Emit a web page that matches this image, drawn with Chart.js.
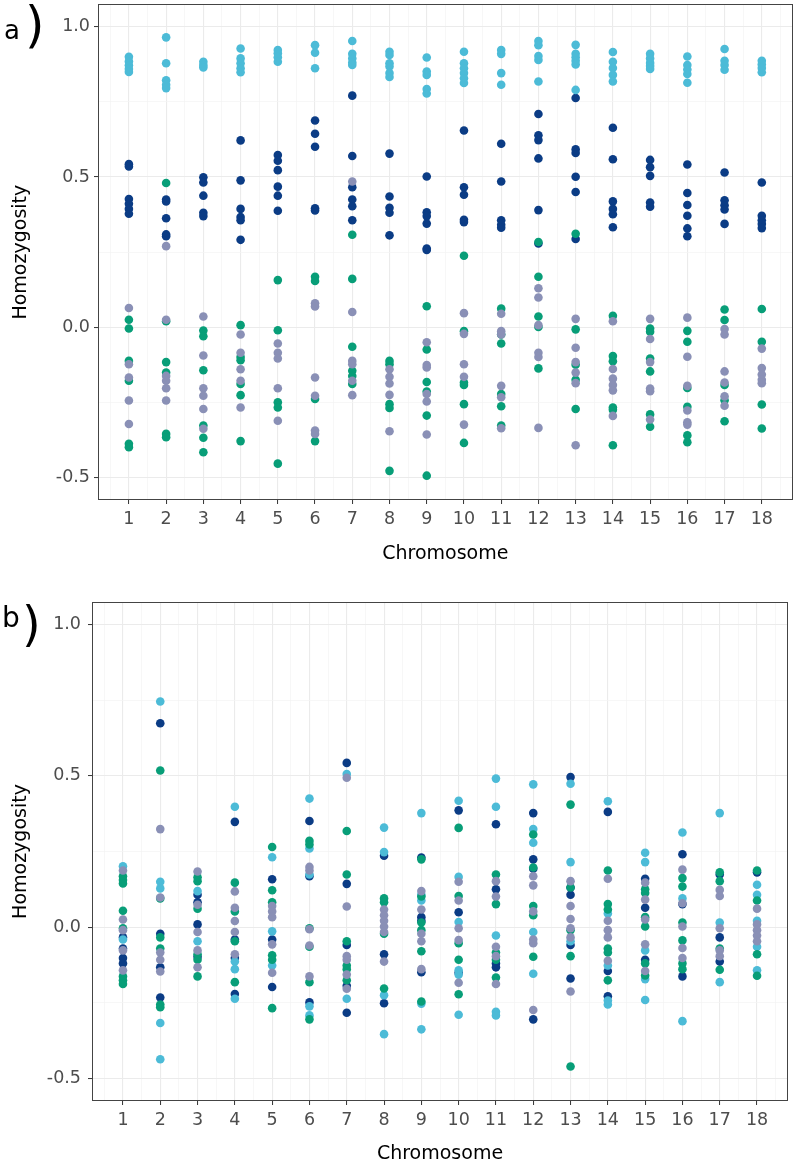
<!DOCTYPE html>
<html><head><meta charset="utf-8">
<script src="https://cdn.jsdelivr.net/npm/chart.js@4.4.0/dist/chart.umd.min.js"></script>
<style>
html,body{margin:0;padding:0;background:#fff;width:797px;height:1163px;overflow:hidden;position:relative;}
canvas{position:absolute;left:0;}
.lbl{position:absolute;font-family:"DejaVu Sans";color:#000;line-height:1;white-space:nowrap;}
</style></head><body>
<canvas id="ca" width="797" height="572" style="top:0"></canvas>
<canvas id="cb" width="797" height="583" style="top:580px"></canvas>
<span class="lbl" style="left:4px;top:17px;font-size:26px">a</span>
<span class="lbl" style="left:25px;top:0px;font-size:50px">)</span>
<span class="lbl" style="left:2px;top:604px;font-size:28px">b</span>
<span class="lbl" style="left:22px;top:600px;font-size:48px">)</span>
<script>
const chromosomes = [1,2,3,4,5,6,7,8,9,10,11,12,13,14,15,16,17,18];
const yMajorValues = [-0.5, 0, 0.5, 1.0];
const yTickLabels = ['-0.5', '0.0', '0.5', '1.0'];
const yMinorValues = [-0.25, 0.25, 0.75];

// Panel a
const aLightBlue = [
 [0.90,0.885,0.872,0.86,0.85],[0.965,0.879,0.822,0.807,0.796],[0.884,0.873,0.865],
 [0.928,0.895,0.879,0.862,0.849],[0.923,0.912,0.899,0.884],[0.939,0.914,0.862],
 [0.953,0.910,0.895,0.881,0.873],[0.917,0.906,0.879,0.868,0.846,0.833],[0.898,0.851,0.840,0.793,0.778],
 [0.917,0.879,0.862,0.846,0.829,0.813],[0.923,0.910,0.846,0.807],[0.953,0.939,0.903,0.890,0.818],
 [0.940,0.910,0.899,0.887,0.875,0.790],[0.916,0.884,0.863,0.840,0.818],[0.91,0.895,0.88,0.87,0.86],
 [0.901,0.873,0.858,0.843,0.814],[0.926,0.887,0.873,0.857],[0.887,0.875,0.863,0.849]];
const aNavy = [
 [0.543,0.535,0.427,0.411,0.394,0.378],[0.425,0.419,0.363,0.309,0.303],[0.499,0.482,0.438,0.381,0.370],
 [0.622,0.489,0.394,0.367,0.356,0.291],[0.573,0.554,0.523,0.468,0.438,0.388],[0.688,0.644,0.601,0.396,0.389],
 [0.771,0.570,0.466,0.425,0.403,0.356],[0.578,0.435,0.398,0.381,0.306],[0.502,0.383,0.370,0.345,0.262,0.257],
 [0.655,0.466,0.441,0.358,0.350],[0.611,0.485,0.356,0.341,0.331],[0.710,0.639,0.623,0.562,0.390,0.279],
 [0.763,0.592,0.580,0.501,0.450,0.294],[0.664,0.559,0.419,0.394,0.376,0.333],[0.557,0.533,0.504,0.415,0.401],
 [0.542,0.447,0.407,0.371,0.329,0.303],[0.515,0.423,0.406,0.392,0.344],[0.482,0.371,0.356,0.344,0.330]];
const aGreen = [
 [0.025,-0.004,-0.112,-0.178,-0.388,-0.399],[0.480,0.020,-0.116,-0.151,-0.355,-0.366],[-0.011,-0.030,-0.143,-0.327,-0.368,-0.416],
 [0.007,-0.099,-0.110,-0.189,-0.226,-0.379],[0.157,-0.010,-0.250,-0.267,-0.454],[0.168,0.154,-0.239,-0.379],
 [0.308,0.161,-0.065,-0.145,-0.162,-0.189],[-0.112,-0.123,-0.256,-0.269,-0.478],[0.070,-0.074,-0.182,-0.214,-0.294,-0.494],
 [0.238,-0.013,-0.184,-0.192,-0.256,-0.385],[0.062,-0.024,-0.054,-0.222,-0.263,-0.327],[0.284,0.168,0.036,0.001,-0.137],
 [0.311,-0.007,-0.125,-0.175,-0.272],[0.038,-0.096,-0.113,-0.267,-0.275,-0.393],[-0.004,-0.015,-0.104,-0.147,-0.290,-0.331],
 [-0.012,-0.048,-0.202,-0.265,-0.360,-0.383],[0.059,0.024,-0.192,-0.243,-0.313],[0.061,-0.048,-0.257,-0.337]];
const aGrey = [
 [0.064,-0.123,-0.167,-0.244,-0.322],[0.270,0.025,-0.162,-0.178,-0.203,-0.244],[0.036,-0.094,-0.203,-0.228,-0.272,-0.338],
 [-0.024,-0.085,-0.140,-0.178,-0.267],[-0.054,-0.085,-0.104,-0.203,-0.311],[0.080,0.069,-0.167,-0.228,-0.344,-0.355],
 [0.485,0.051,-0.112,-0.123,-0.178,-0.226],[-0.140,-0.165,-0.187,-0.225,-0.346],[-0.050,-0.126,-0.134,-0.222,-0.247,-0.357],
 [0.047,-0.022,-0.123,-0.165,-0.324],[0.045,-0.013,-0.024,-0.195,-0.233,-0.336],[0.130,0.099,0.007,-0.085,-0.099,-0.335],
 [0.028,-0.068,-0.116,-0.151,-0.186,-0.393],[0.020,-0.139,-0.171,-0.192,-0.210,-0.295],[0.028,-0.039,-0.116,-0.204,-0.213,-0.307],
 [0.032,-0.098,-0.195,-0.277,-0.316,-0.324],[-0.006,-0.024,-0.147,-0.184,-0.230,-0.261],[-0.071,-0.136,-0.157,-0.175,-0.186]];

// Panel b
const bLightBlue = [
 [0.201,-0.041],[0.746,0.150,0.128,-0.317,-0.437],[0.119,-0.047],[0.398,-0.114,-0.139,-0.237],
 [0.231,-0.014,-0.127],[0.425,0.260,0.174,-0.262,-0.292],[0.506,-0.237],[0.329,0.248,-0.225,-0.354],
 [0.377,0.107,0.088,-0.253,-0.338],[0.418,0.166,0.017,-0.143,-0.157,-0.290],[0.491,0.398,-0.028,-0.280,-0.292],
 [0.472,0.324,0.279,-0.016,-0.154],[0.474,0.215,-0.047],[0.416,0.045,-0.127,-0.243,-0.256],
 [0.246,0.215,-0.077,-0.172,-0.241],[0.313,0.095,-0.311],[0.377,0.015,-0.182],[0.140,0.107,0.021,-0.065,-0.143]];
const bNavy = [
 [-0.034,-0.071,-0.102,-0.120],[0.674,-0.022,-0.133,-0.233],[0.107,0.082,0.009,-0.098],[0.348,-0.041,-0.102,-0.221],
 [0.158,-0.041,-0.198],[0.351,0.168,-0.249],[0.543,0.143,-0.059,-0.194,-0.283],[0.236,-0.090,-0.252],
 [0.230,0.033,0.021,-0.149],[0.386,0.049,-0.151],[0.340,0.125,-0.120,-0.133],[0.377,0.224,0.193,-0.305],
 [0.496,0.131,0.107,-0.059,-0.170],[0.381,-0.145,-0.229],[0.160,0.064,-0.108],[0.241,0.076,-0.163],
 [0.174,-0.034,-0.114],[0.181]];
const bGreen = [
 [0.168,0.156,0.144,0.054,-0.004,-0.163,-0.176,-0.188],[0.518,0.095,-0.034,-0.071,-0.256,-0.265],[0.165,0.152,0.061,-0.090,-0.108,-0.163],
 [0.147,0.052,-0.047,-0.182],[0.265,0.122,0.082,-0.093,-0.108,-0.268],[0.285,0.273,-0.004,-0.065,-0.182,-0.305],
 [0.318,0.174,-0.047,-0.127,-0.139,-0.176],[0.095,0.082,-0.022,-0.203],[0.224,0.101,0.015,-0.010,-0.080,-0.246],
 [0.328,0.103,-0.053,-0.108,-0.222],[0.174,0.076,-0.084,-0.108,-0.167],[0.306,0.197,0.070,0.039,-0.098],
 [0.405,0.131,-0.010,-0.096,-0.461],[0.187,0.076,0.058,-0.071,-0.084,-0.176],[0.125,0.113,0.033,0.002,-0.120,-0.160],
 [0.162,0.134,0.015,-0.044,-0.120,-0.139],[0.181,0.152,-0.071,-0.141],[0.187,0.088,-0.090,-0.161]];
const bGrey = [
 [0.187,0.025,-0.010,-0.077,-0.143],[0.324,0.098,-0.084,-0.108,-0.147],[0.184,0.074,-0.016,-0.077,-0.133],
 [0.118,0.064,0.020,-0.016,-0.090],[0.070,0.052,0.033,-0.057,-0.151],[0.199,0.187,-0.007,-0.061,-0.163],
 [0.494,0.068,-0.096,-0.108,-0.157,-0.204],[0.058,0.039,0.021,0.002,-0.016,-0.114],[0.119,0.058,-0.022,-0.047,-0.139],
 [0.150,0.088,-0.004,-0.043,-0.184],[0.152,0.101,-0.065,-0.096,-0.188],[0.168,0.138,0.052,-0.041,-0.053,-0.274],
 [0.152,0.070,0.027,-0.004,-0.034,-0.213],[0.160,0.021,-0.010,-0.034,-0.111],[0.147,0.091,0.025,-0.057,-0.145],
 [0.190,0.079,0.002,-0.069,-0.102],[0.123,0.103,-0.004,-0.077,-0.096],[0.061,0.009,-0.010,-0.028,-0.047]];

const COLORS = {lightBlue:'#4CBBD7', navy:'#0B3C85', green:'#089E78', grey:'#8A90B6'};

function toPoints(series){
  const pts = [];
  series.forEach((vals, i) => vals.forEach(v => pts.push({x: chromosomes[i], y: v})));
  return pts;
}
function ds(series, color){
  return {data: toPoints(series), backgroundColor: color, borderWidth: 0, pointRadius: 4.3, pointHoverRadius: 4.3};
}
const isMajorY = v => yMajorValues.some(m => Math.abs(m - v) < 1e-9);
const isMajorX = v => Number.isInteger(v);

const panelBorder = {
  id: 'panelBorder',
  afterDatasetsDraw(chart){
    const {ctx, chartArea: a} = chart;
    ctx.save();
    ctx.strokeStyle = '#444';
    ctx.lineWidth = 1;
    ctx.strokeRect(Math.round(a.left)+0.5, Math.round(a.top)+0.5, Math.round(a.right-a.left)-1, Math.round(a.bottom-a.top)-1);
    ctx.restore();
  }
};

function makeChart(id, sets, g){
  return new Chart(document.getElementById(id), {
    type: 'scatter',
    data: {datasets: [ds(sets.grey, COLORS.grey), ds(sets.green, COLORS.green), ds(sets.lightBlue, COLORS.lightBlue), ds(sets.navy, COLORS.navy)]},
    options: {
      responsive: false, animation: false, events: [],
      layout: {padding: {left: 0, top: g.top, right: g.right, bottom: 0}},
      plugins: {legend: {display: false}, tooltip: {enabled: false}},
      scales: {
        x: {
          type: 'linear', min: 0.17, max: 18.83,
          afterBuildTicks: axis => {
            const t = [];
            chromosomes.forEach(c => { t.push({value: c - 0.5}); t.push({value: c}); });
            t.push({value: chromosomes[chromosomes.length-1] + 0.5});
            axis.ticks = t;
          },
          afterFit: s => { s.height = g.xAxisH; s.paddingLeft = 0; s.paddingRight = 0; },
          ticks: {autoSkip: false, maxRotation: 0, padding: g.xTickPad, color: '#4D4D4D',
                  font: {family: 'DejaVu Sans', size: 17.5},
                  callback: v => isMajorX(v) ? String(v) : ''},
          grid: {color: c => isMajorX(c.tick.value) ? '#EBEBEB' : '#F4F4F4',
                 lineWidth: c => isMajorX(c.tick.value) ? 1.1 : 0.7,
                 tickColor: c => isMajorX(c.tick.value) ? '#333' : 'rgba(0,0,0,0)',
                 tickLength: 4, tickWidth: 1},
          border: {display: false},
          title: {display: true, text: 'Chromosome', color: '#000',
                  font: {family: 'DejaVu Sans', size: 19, lineHeight: 1}, padding: {top: 0, bottom: g.xTitlePad}}
        },
        y: {
          type: 'linear', min: -0.575, max: 1.075,
          afterBuildTicks: axis => {
            axis.ticks = yMajorValues.concat(yMinorValues).sort((p,q)=>p-q).map(v => ({value: v}));
          },
          afterFit: s => { s.width = g.yAxisW; s.paddingTop = 0; s.paddingBottom = 0; },
          ticks: {padding: g.yTickPad, color: '#4D4D4D', font: {family: 'DejaVu Sans', size: 17.5},
                  callback: v => { const i = yMajorValues.findIndex(m => Math.abs(m - v) < 1e-9); return i >= 0 ? yTickLabels[i] : ''; }},
          grid: {color: c => isMajorY(c.tick.value) ? '#EBEBEB' : '#F4F4F4',
                 lineWidth: c => isMajorY(c.tick.value) ? 1.1 : 0.7,
                 tickColor: c => isMajorY(c.tick.value) ? '#333' : 'rgba(0,0,0,0)',
                 tickLength: 4, tickWidth: 1},
          border: {display: false},
          title: {display: true, text: 'Homozygosity', color: '#000',
                  font: {family: 'DejaVu Sans', size: 19, lineHeight: 1}, padding: {top: g.yTitlePad, bottom: 0}}
        }
      }
    },
    plugins: [panelBorder]
  });
}

makeChart('ca', {lightBlue: aLightBlue, navy: aNavy, green: aGreen, grey: aGrey},
  {top: 1, right: 2.5, yAxisW: 98, xAxisH: 72, xTickPad: 4.5, yTickPad: 4, xTitlePad: 8, yTitlePad: 12});
makeChart('cb', {lightBlue: bLightBlue, navy: bNavy, green: bGreen, grey: bGrey},
  {top: 22, right: 9, yAxisW: 92, xAxisH: 62, xTickPad: 4.5, yTickPad: 7, xTitlePad: -1, yTitlePad: 12});
</script>
</body></html>
